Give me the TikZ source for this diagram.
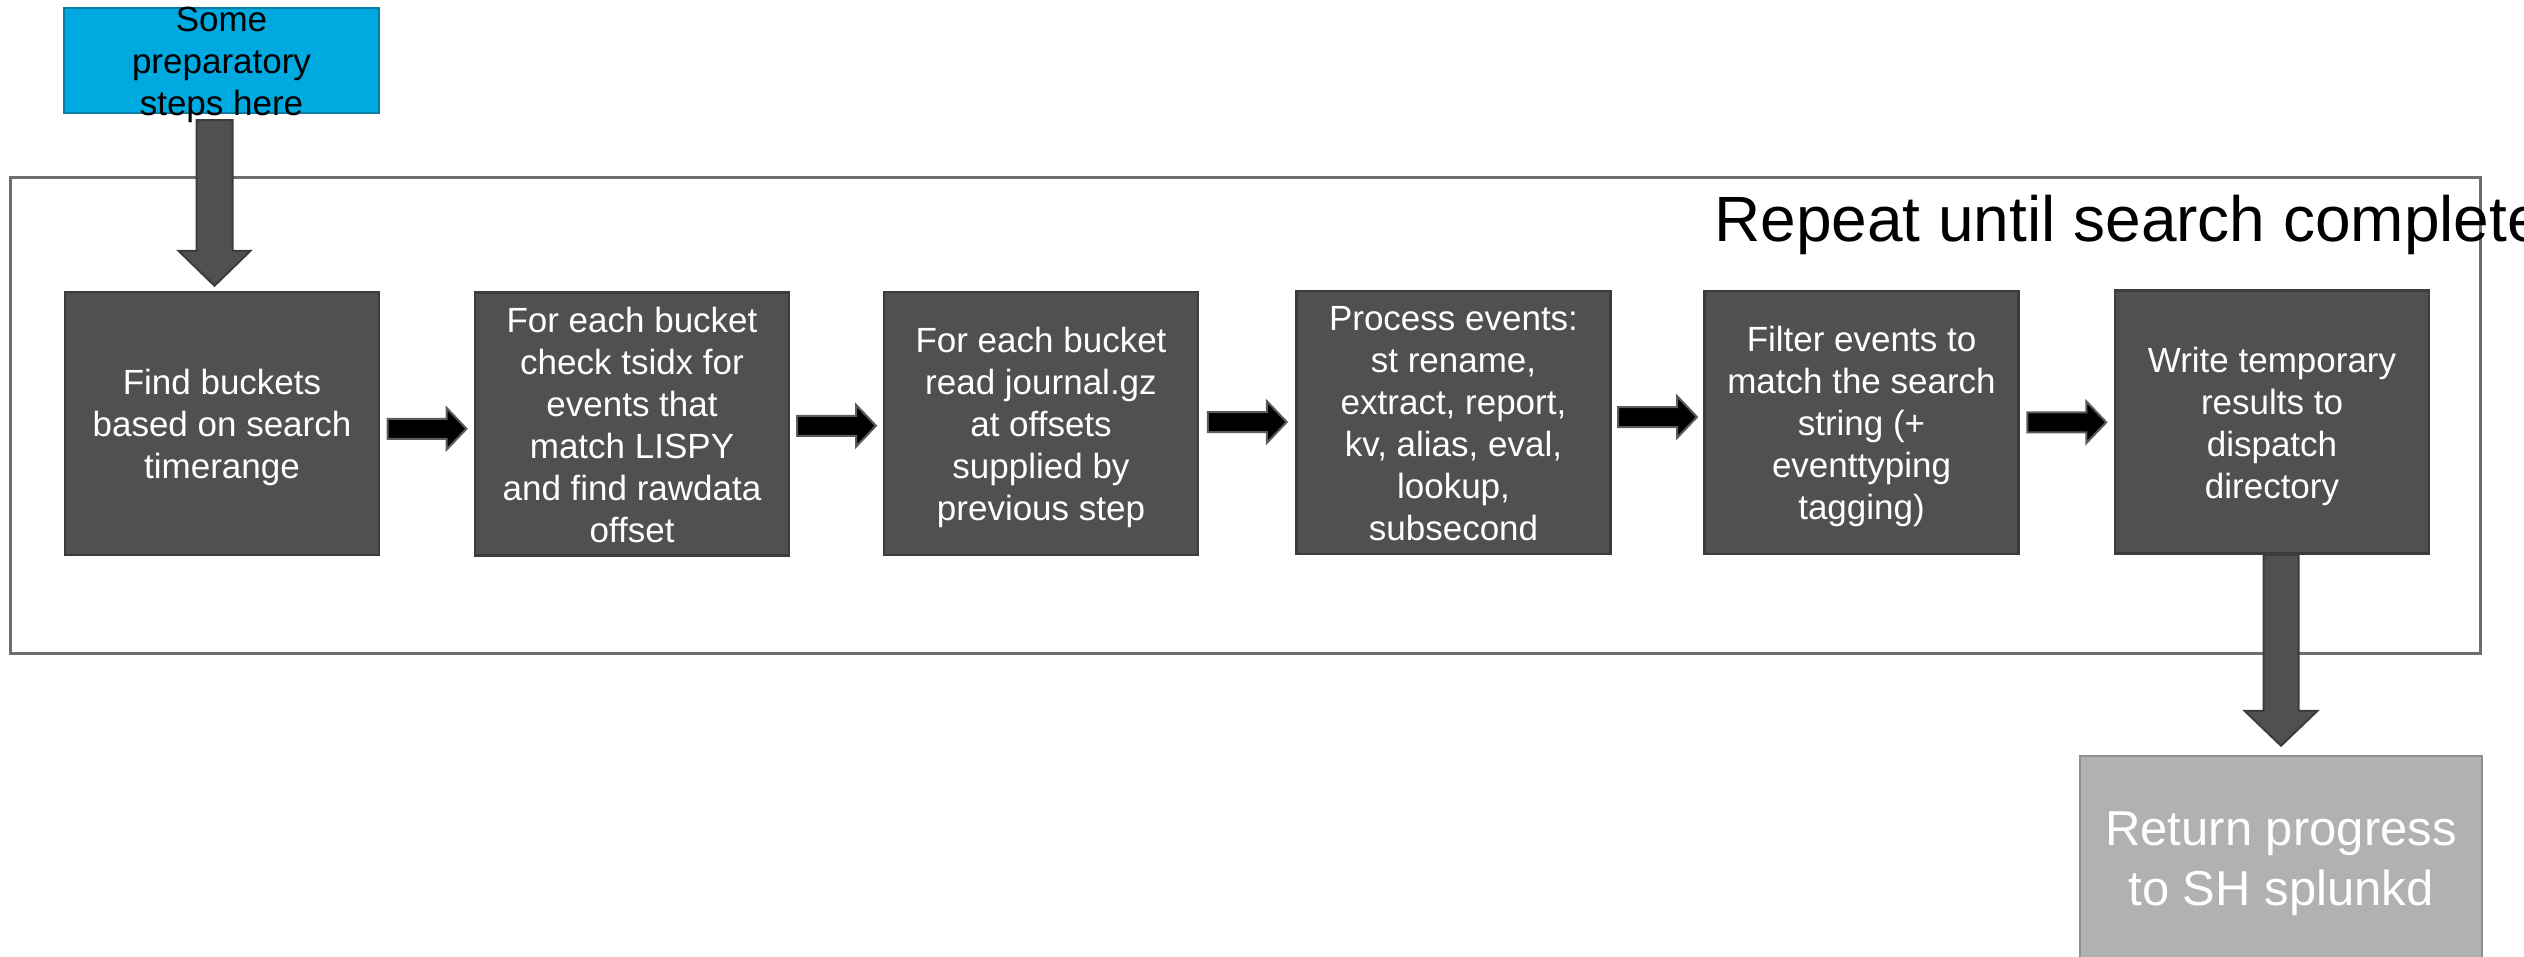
\documentclass[tikz,border=0pt]{standalone}
\usepackage{fontspec}
\setmainfont{Liberation Sans}
\usetikzlibrary{calc}

\definecolor{boxfill}{HTML}{505050}
\definecolor{boxline}{HTML}{3C3C3C}
\definecolor{prepfill}{HTML}{00A9E0}
\definecolor{prepline}{HTML}{0A7DA6}
\definecolor{framecol}{HTML}{6E6E6E}
\definecolor{returnfill}{HTML}{B1B1B1}
\definecolor{returnline}{HTML}{8E8E8E}
\definecolor{arrowline}{HTML}{5C5C5C}

% struts that give the first and last line of a box text a fixed ascent/descent
\newcommand\firstln{\rule{0pt}{1em}}
\newcommand\lastln{\rule[-.23em]{0pt}{.23em}}

% horizontal block arrow centred between two boxes: #1 left box, #2 right box, #3 vertical offset
\newcommand\flowarrowbetween[3]{%
  \draw[flowarrow] let \p1=($(#1.east)!0.5!(#2.west)+(0pt,#3)$) in
    (\x1-39.5pt,\y1+10pt) -- (\x1+19.5pt,\y1+10pt) -- (\x1+19.5pt,\y1+21pt) --
    (\x1+39.5pt,\y1) -- (\x1+19.5pt,\y1-21pt) -- (\x1+19.5pt,\y1-10pt) --
    (\x1-39.5pt,\y1-10pt) -- cycle;}

% vertical block arrow: #1 start point, #2 tip point, #3 shaft half width, #4 head half width, #5 head length
\newcommand\downarrowblock[5]{%
  \draw[bigarrow] let \p1=(#1), \p2=(#2) in
    (\x2-#3,\y1) -- (\x2-#3,\y2+#5) -- (\x2-#4,\y2+#5) -- (\x2,\y2) --
    (\x2+#4,\y2+#5) -- (\x2+#3,\y2+#5) -- (\x2+#3,\y1) -- cycle;}

\tikzset{
  stepbox/.style={draw=boxline, fill=boxfill, line width=2.5pt,
    minimum width=314pt, minimum height=263pt, inner sep=0pt,
    align=center, text=white, font=\fontsize{35pt}{42pt}\selectfont},
  prepbox/.style={draw=prepline, fill=prepfill, line width=2pt,
    minimum width=315pt, minimum height=105pt, inner sep=0pt},
  preptext/.style={inner sep=0pt, align=center, text=black,
    font=\fontsize{35pt}{42pt}\selectfont},
  returnbox/.style={draw=returnline, fill=returnfill, line width=2.5pt,
    minimum width=402pt, minimum height=202pt, inner sep=0pt,
    align=center, text=white, font=\fontsize{49pt}{60pt}\selectfont},
  looparea/.style={draw=framecol, line width=3pt,
    minimum width=2470pt, minimum height=476pt, inner sep=0pt},
  looptitle/.style={anchor=base west, inner sep=0pt, text=black,
    font=\fontsize{64pt}{76pt}\selectfont},
  flowarrow/.style={fill=black, draw=arrowline, line width=2pt, line join=miter},
  bigarrow/.style={fill=boxfill, draw=boxline, line width=2pt, line join=miter},
}

\begin{document}
\begin{tikzpicture}[x=1pt, y=1pt]
  \useasboundingbox (0,0) rectangle (2524,-956);

  % loop container and its title
  \node[looparea] (loop) at (1245,-415) {};
  \node[looptitle] (title) at (1714,-241) {Repeat until search complete};

  % preparatory step (its text runs past the box edges)
  \node[prepbox] (prep) at (221.5,-60.5) {};
  \node[preptext] (preplabel) at (prep.center)
    {\firstln Some\\preparatory\\steps here\lastln};

  % steps inside the loop
  \node[stepbox] (b1) at (222,-423.5)
    {\firstln Find buckets\\based on search\\timerange\lastln};
  \node[stepbox] (b2) at (632,-424)
    {\firstln For each bucket\\check tsidx for\\events that\\match LISPY\\and find rawdata\\offset\lastln};
  \node[stepbox] (b3) at (1041,-423.5)
    {\firstln For each bucket\\read journal.gz\\at offsets\\supplied by\\previous step\lastln};
  \node[stepbox] (b4) at (1453.5,-422.5)
    {\firstln Process events:\\st rename,\\extract, report,\\kv, alias, eval,\\lookup,\\subsecond\lastln};
  \node[stepbox] (b5) at (1861.5,-422.5)
    {\firstln Filter events to\\match the search\\string (+\\eventtyping\\tagging)\lastln};
  \node[stepbox] (b6) at (2272,-422)
    {\firstln Write temporary\\results to\\dispatch\\directory\lastln};

  % result returned after the loop
  \node[returnbox] (ret) at (2281,-857)
    {\firstln Return progress\\to SH splunkd\lastln};

  % arrows between the steps
  \flowarrowbetween{b1}{b2}{-5pt}
  \flowarrowbetween{b2}{b3}{-2pt}
  \flowarrowbetween{b3}{b4}{1pt}
  \flowarrowbetween{b4}{b5}{5.5pt}
  \flowarrowbetween{b5}{b6}{0pt}

  % entry and exit arrows
  \downarrowblock{$(prep.south)+(0,-6pt)$}{$(b1.north)+(-7.5pt,5pt)$}{18pt}{36pt}{35pt}
  \downarrowblock{b6.south}{$(ret.north)+(0,9pt)$}{17.5pt}{36.5pt}{35pt}
\end{tikzpicture}
\end{document}
